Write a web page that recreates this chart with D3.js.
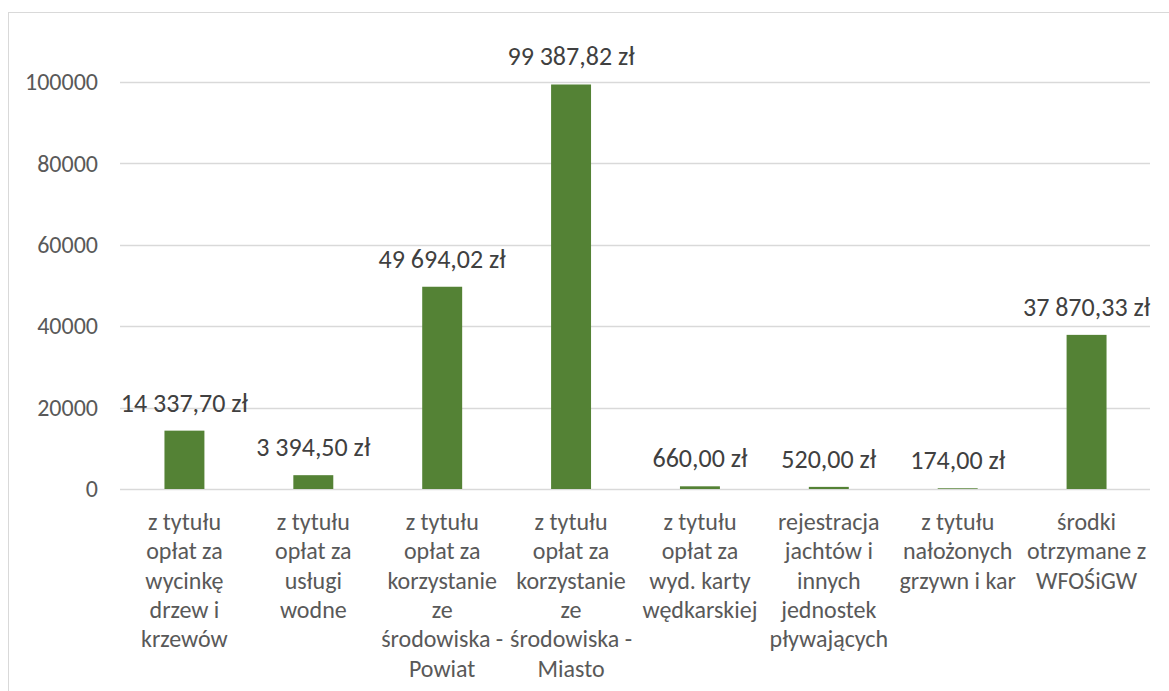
<!DOCTYPE html>
<html><head><meta charset="utf-8">
<script src="https://cdn.jsdelivr.net/npm/d3@7"></script>
<style>body{margin:0;background:#fff;}svg{display:block;}text{font-family:Carlito,Calibri,Lato,"Open Sans",sans-serif;}</style>
</head><body>
<script>
const categories = [
  ["z tytułu","opłat za","wycinkę","drzew i","krzewów"],
  ["z tytułu","opłat za","usługi","wodne"],
  ["z tytułu","opłat za","korzystanie","ze","środowiska -","Powiat"],
  ["z tytułu","opłat za","korzystanie","ze","środowiska -","Miasto"],
  ["z tytułu","opłat za","wyd. karty","wędkarskiej"],
  ["rejestracja","jachtów i","innych","jednostek","pływających"],
  ["z tytułu","nałożonych","grzywn i kar"],
  ["środki","otrzymane z","WFOŚiGW"]
];
const values = [14337.70, 3394.50, 49694.02, 99387.82, 660.00, 520.00, 174.00, 37870.33];
const valueLabels = ["14 337,70 zł","3 394,50 zł","49 694,02 zł","99 387,82 zł","660,00 zł","520,00 zł","174,00 zł","37 870,33 zł"];
const yTicks = [0, 20000, 40000, 60000, 80000, 100000];

const W = 1169, H = 691;
const svg = d3.select("body").append("svg").attr("width", W).attr("height", H);
svg.append("rect").attr("x",8.5).attr("y",12.5).attr("width",1200).attr("height",700)
  .attr("fill","#fff").attr("stroke","#d9d9d9");

const x = d3.scaleBand().domain(d3.range(categories.length)).range([120, 1151]).paddingInner(0.69).paddingOuter(0.345);
const y = d3.scaleLinear().domain([0, 100000]).range([489, 82]);

const grid = svg.append("g");
grid.selectAll("line").data(yTicks).join("line")
  .attr("x1",120).attr("x2",1150).attr("y1",d=>Math.round(y(d))+0.5).attr("y2",d=>Math.round(y(d))+0.5)
  .attr("stroke","#d9d9d9").attr("stroke-width",1.3);

const yAxis = d3.axisLeft(y).tickValues(yTicks).tickFormat(d=>String(d)).tickSize(0).tickPadding(0);
const ya = svg.append("g").attr("transform","translate(98,0)").call(yAxis);
ya.select(".domain").remove();
ya.selectAll("text").attr("font-size",24).attr("fill","#595959").attr("font-family","Carlito,Calibri,Lato,'Open Sans',sans-serif");

svg.append("g").selectAll("rect").data(values).join("rect")
  .attr("x",(d,i)=>x(i)).attr("width",x.bandwidth())
  .attr("y",d=>y(d)).attr("height",d=>y(0)-y(d))
  .attr("fill","#548235");

svg.append("g").selectAll("text").data(values).join("text")
  .attr("x",(d,i)=>x(i)+x.bandwidth()/2).attr("y",d=>y(d)-19)
  .attr("text-anchor","middle").attr("font-size",26).attr("fill","#404040")
  .text((d,i)=>valueLabels[i]);

const cl = svg.append("g").selectAll("text").data(categories).join("text")
  .attr("text-anchor","middle").attr("font-size",24).attr("fill","#595959");
cl.each(function(lines,i){
  const t = d3.select(this);
  lines.forEach((ln,j)=>{
    t.append("tspan").attr("x",x(i)+x.bandwidth()/2).attr("y",530+j*29.3).text(ln);
  });
});
</script>
</body></html>
